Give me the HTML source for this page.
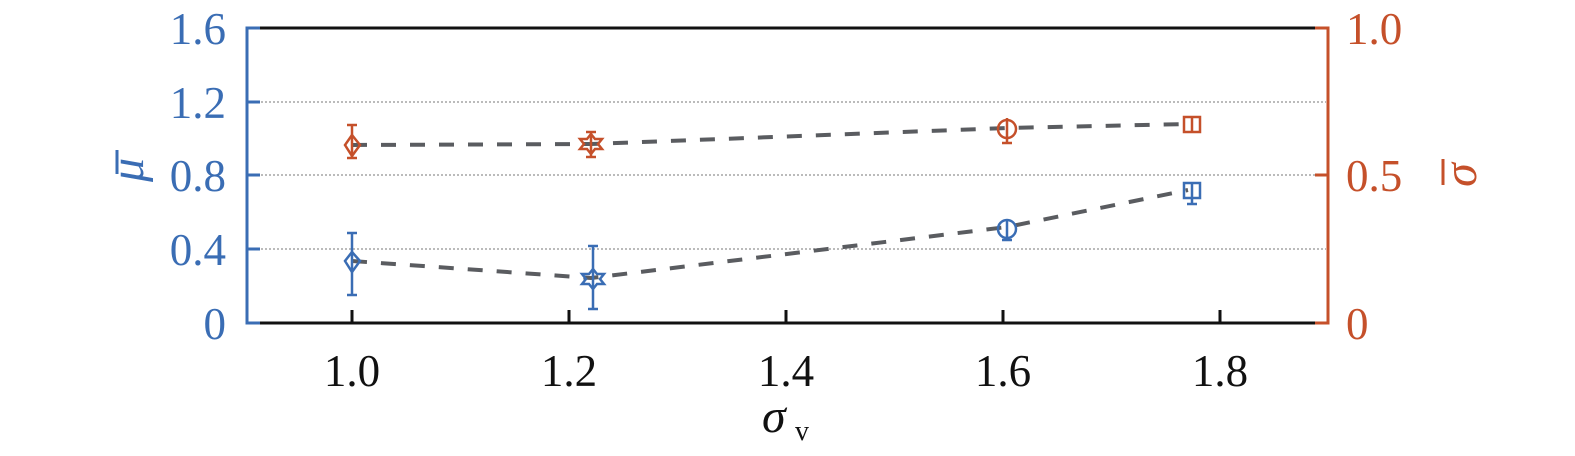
<!DOCTYPE html>
<html><head><meta charset="utf-8"><style>
html,body{margin:0;padding:0;background:#fff;}
svg{display:block;}
text{font-family:"Liberation Serif",serif;}
</style></head><body>
<svg width="1575" height="456" viewBox="0 0 1575 456" xmlns="http://www.w3.org/2000/svg">
<g stroke="#bbb" stroke-width="2" stroke-dasharray="2,2">
<line x1="249" y1="102" x2="1326" y2="102"/>
<line x1="249" y1="175" x2="1326" y2="175"/>
<line x1="249" y1="249" x2="1326" y2="249"/>
</g>
<line x1="247" y1="28" x2="1328" y2="28" stroke="#111" stroke-width="3"/>
<line x1="247" y1="323" x2="1328" y2="323" stroke="#111" stroke-width="3"/>
<line x1="247" y1="26.5" x2="247" y2="324.5" stroke="#3a6db4" stroke-width="3"/>
<line x1="1328" y1="26.5" x2="1328" y2="324.5" stroke="#c5502a" stroke-width="3"/>
<g stroke="#3a6db4" stroke-width="3">
<line x1="247" y1="28" x2="260" y2="28"/><line x1="247" y1="102" x2="260" y2="102"/>
<line x1="247" y1="175" x2="260" y2="175"/><line x1="247" y1="249" x2="260" y2="249"/>
<line x1="247" y1="323" x2="260" y2="323"/>
</g>
<g stroke="#c5502a" stroke-width="3">
<line x1="1315" y1="28" x2="1328" y2="28"/><line x1="1315" y1="175" x2="1328" y2="175"/>
<line x1="1315" y1="323" x2="1328" y2="323"/>
</g>
<g stroke="#111" stroke-width="3">
<line x1="352" y1="323" x2="352" y2="310"/><line x1="569" y1="323" x2="569" y2="310"/>
<line x1="786" y1="323" x2="786" y2="310"/><line x1="1003" y1="323" x2="1003" y2="310"/>
<line x1="1220" y1="323" x2="1220" y2="310"/>
</g>
<g stroke="#5a5c60" stroke-width="4" stroke-dasharray="15,14" fill="none">
<polyline points="352,145 591,144 1007,128 1188,124"/>
<polyline points="352,261 591,278 1007,227 1188,190"/>
</g>
<g stroke="#3a6db4" stroke-width="2.5" fill="none">
<line x1="352" y1="233" x2="352" y2="295"/><line x1="347" y1="233" x2="357" y2="233"/><line x1="347" y1="295" x2="357" y2="295"/>
<polygon points="352,252 360,261 352,272 345,261"/>
<line x1="593" y1="246" x2="593" y2="309"/><line x1="588" y1="246" x2="598" y2="246"/><line x1="588" y1="309" x2="598" y2="309"/>
<polygon points="593,269 597,274 604,274 600,279 604,284 597,284 593,289 589,284 582,284 586,279 582,274 589,274"/>
<line x1="1007" y1="219" x2="1007" y2="240"/><line x1="1002" y1="240" x2="1012" y2="240"/>
<circle cx="1007" cy="229" r="9"/>
<line x1="1192" y1="183" x2="1192" y2="204"/><line x1="1187" y1="204" x2="1197" y2="204"/>
<rect x="1184" y="183" width="16" height="15"/>
</g>
<g stroke="#c5502a" stroke-width="2.5" fill="none">
<line x1="352" y1="125" x2="352" y2="158"/><line x1="347" y1="125" x2="357" y2="125"/><line x1="347" y1="158" x2="357" y2="158"/>
<polygon points="352,135 360,145 352,156 345,145"/>
<line x1="591" y1="132" x2="591" y2="157"/><line x1="586" y1="132" x2="596" y2="132"/><line x1="586" y1="157" x2="596" y2="157"/>
<polygon points="591,134 595,139 602,139 598,144 602,149 595,149 591,154 587,149 580,149 584,144 580,139 587,139"/>
<line x1="1007" y1="118" x2="1007" y2="143"/><line x1="1002" y1="143" x2="1012" y2="143"/>
<circle cx="1007" cy="129" r="9"/>
<line x1="1192" y1="117" x2="1192" y2="132"/>
<rect x="1184" y="117" width="16" height="15"/>
</g>
<g fill="#3a6db4" font-size="45" text-anchor="end">
<text x="226" y="44">1.6</text><text x="226" y="118">1.2</text>
<text x="226" y="191">0.8</text><text x="226" y="265">0.4</text>
<text x="226" y="339">0</text>
</g>
<text x="0" y="0" fill="#3a6db4" font-size="48" font-style="italic" transform="translate(143,170) rotate(-90)" text-anchor="middle">μ</text>
<line x1="117" y1="150" x2="117" y2="174" stroke="#3a6db4" stroke-width="3"/>
<g fill="#c5502a" font-size="45">
<text x="1346" y="44">1.0</text><text x="1346" y="191">0.5</text><text x="1346" y="339">0</text>
</g>
<text x="0" y="0" fill="#c5502a" font-size="48" font-style="italic" transform="translate(1476,175) rotate(-90)" text-anchor="middle">σ</text>
<line x1="1443" y1="159" x2="1443" y2="185" stroke="#c5502a" stroke-width="3"/>
<g fill="#111" font-size="45" text-anchor="middle">
<text x="352" y="386">1.0</text><text x="569" y="386">1.2</text><text x="786" y="386">1.4</text>
<text x="1003" y="386">1.6</text><text x="1220" y="386">1.8</text>
</g>
<text x="762" y="432" fill="#111" font-size="48" font-style="italic">σ</text>
<text x="795" y="440" fill="#111" font-size="28">v</text>
</svg>
</body></html>
